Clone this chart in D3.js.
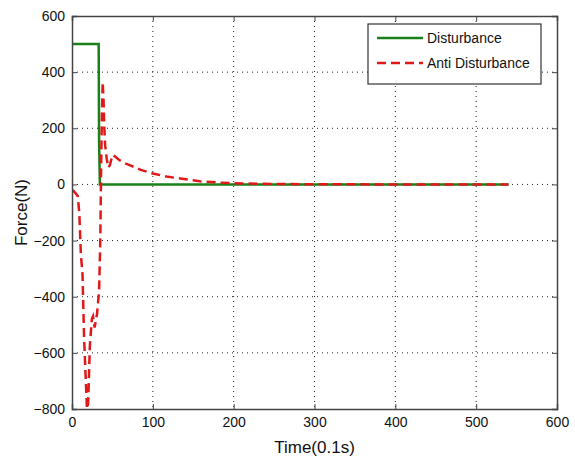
<!DOCTYPE html>
<html>
<head>
<meta charset="utf-8">
<script src="https://d3js.org/d3.v7.min.js"></script>
<style>
  body { margin: 0; background: #fff; }
  text { font-family: "Liberation Sans", Arial, sans-serif; }
</style>
</head>
<body>
<div id="my_dataviz"></div>
<script>
    // tick values
    var xTicks = [0, 100, 200, 300, 400, 500, 600];
    var yTicks = [-800, -600, -400, -200, 0, 200, 400, 600];

    // series: [time, force]
    var disturbance = [[0, 500], [33, 500], [33.5, 150], [34.5, 0], [540, 0]];

    var antiDisturbance = [
        [1, -20], [4, -30], [7, -40], [9, -100], [11, -250], [13, -320],
        [15, -550], [18.5, -800], [20, -780], [22, -580], [24.5, -480],
        [26, -470], [28, -510], [31, -460], [33.5, -380], [35, -200],
        [36, 50], [37, 250], [38, 365], [39, 300], [40, 200], [41, 140],
        [43, 90], [45, 60], [47, 70], [50, 105], [53, 100], [58, 88],
        [65, 76], [72, 68], [85, 52], [100, 39], [117, 28], [134, 21],
        [158, 11], [180, 7], [200, 4], [250, 1.5], [300, 0.5], [400, 0], [540, 0]
    ];

    var margin = {top: 16, right: 18, bottom: 51, left: 72},
        width = 575 - margin.left - margin.right,
        height = 460 - margin.top - margin.bottom;

    var svg = d3.select("#my_dataviz")
        .append("svg")
        .attr("width", 575)
        .attr("height", 460)
        .append("g")
        .attr("transform", "translate(" + margin.left + "," + margin.top + ")");

    var x = d3.scaleLinear().domain([0, 600]).range([0, width]);
    var y = d3.scaleLinear().domain([-800, 600]).range([height, 0]);

    // grid
    svg.append("g").selectAll("line")
        .data(xTicks.slice(1, -1))
        .join("line")
        .attr("x1", d => x(d)).attr("x2", d => x(d))
        .attr("y1", 0).attr("y2", height)
        .attr("stroke", "#222").attr("stroke-width", 1)
        .attr("stroke-dasharray", "1,4");
    svg.append("g").selectAll("line")
        .data(yTicks.slice(1, -1))
        .join("line")
        .attr("x1", 0).attr("x2", width)
        .attr("y1", d => y(d)).attr("y2", d => y(d))
        .attr("stroke", "#222").attr("stroke-width", 1)
        .attr("stroke-dasharray", "1,4");

    // lines
    var line = d3.line()
        .x(d => x(d[0]))
        .y(d => y(d[1]));

    svg.append("defs").append("clipPath").attr("id", "clip")
        .append("rect").attr("width", width).attr("height", height);

    svg.append("path")
        .datum(disturbance)
        .attr("clip-path", "url(#clip)")
        .attr("fill", "none")
        .attr("stroke", "#1a801a")
        .attr("stroke-width", 2.5)
        .attr("d", line);

    svg.append("path")
        .datum(antiDisturbance)
        .attr("clip-path", "url(#clip)")
        .attr("fill", "none")
        .attr("stroke", "#e01818")
        .attr("stroke-width", 2.5)
        .attr("stroke-dasharray", "9,5")
        .attr("d", line);

    // axes
    var xAxis = svg.append("g")
        .attr("transform", "translate(0," + height + ")")
        .call(d3.axisBottom(x).tickValues(xTicks).tickSize(-5).tickPadding(8));
    var xAxisTop = svg.append("g")
        .call(d3.axisTop(x).tickValues(xTicks).tickSize(-5).tickFormat(""));
    var yAxis = svg.append("g")
        .call(d3.axisLeft(y).tickValues(yTicks).tickSize(-5).tickPadding(7));
    var yAxisRight = svg.append("g")
        .attr("transform", "translate(" + width + ",0)")
        .call(d3.axisRight(y).tickValues(yTicks).tickSize(-5).tickFormat(""));

    [xAxis, xAxisTop, yAxis, yAxisRight].forEach(function(a) {
        a.select(".domain").attr("stroke", "#444").attr("stroke-width", 1.5);
        a.selectAll(".tick line").attr("stroke", "#444");
        a.selectAll("text").attr("fill", "#111").style("font-size", "14px");
    });

    // labels
    svg.append("text")
        .attr("x", width / 2)
        .attr("y", height + 44)
        .attr("text-anchor", "middle")
        .style("font-size", "17px")
        .attr("fill", "#111")
        .text("Time(0.1s)");

    svg.append("text")
        .attr("transform", "translate(" + (-45) + "," + (height / 2) + ") rotate(-90)")
        .attr("text-anchor", "middle")
        .style("font-size", "17px")
        .attr("fill", "#111")
        .text("Force(N)");

    // legend
    var legend = svg.append("g").attr("transform", "translate(" + (368 - margin.left) + "," + (24 - margin.top) + ")");
    legend.append("rect")
        .attr("width", 173).attr("height", 60)
        .attr("fill", "#fff").attr("stroke", "#333").attr("stroke-width", 1.2);
    legend.append("line")
        .attr("x1", 9).attr("x2", 55).attr("y1", 14).attr("y2", 14)
        .attr("stroke", "#1a801a").attr("stroke-width", 2.5);
    legend.append("line")
        .attr("x1", 9).attr("x2", 55).attr("y1", 39).attr("y2", 39)
        .attr("stroke", "#e01818").attr("stroke-width", 2.5)
        .attr("stroke-dasharray", "9,5");
    legend.append("text").attr("x", 59).attr("y", 19)
        .style("font-size", "14px").attr("fill", "#111").text("Disturbance");
    legend.append("text").attr("x", 59).attr("y", 44)
        .style("font-size", "14px").attr("fill", "#111").text("Anti Disturbance");
</script>
</body>
</html>
